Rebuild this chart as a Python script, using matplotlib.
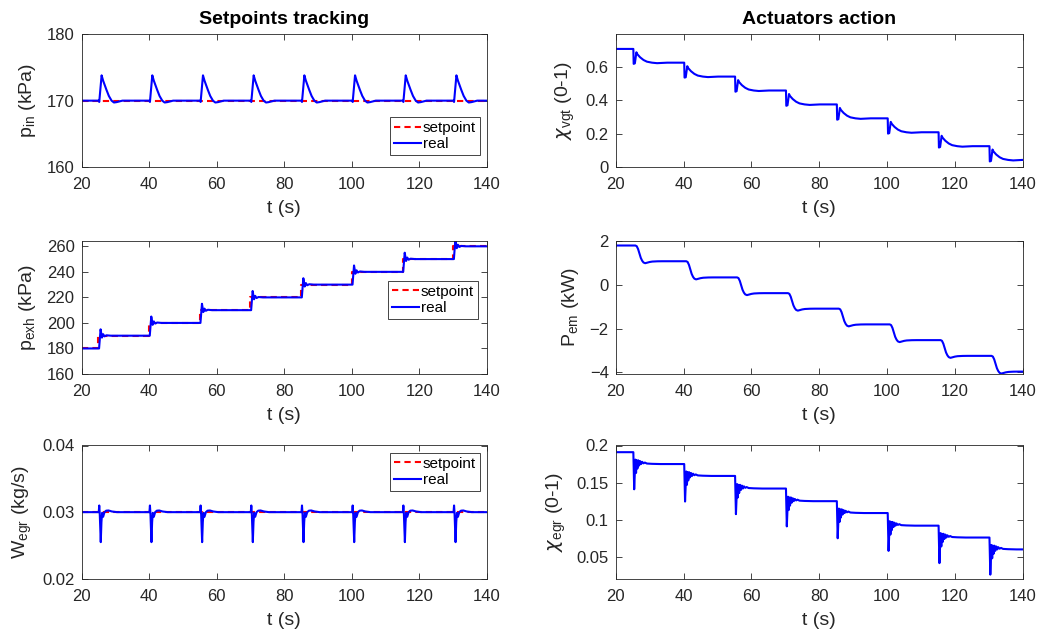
import matplotlib
matplotlib.use("Agg")
import matplotlib.pyplot as plt
import numpy as np

plt.rcParams['font.family'] = ['Liberation Sans', 'DejaVu Sans']
plt.rcParams['mathtext.fontset'] = 'dejavusans'

# ---------------- data ----------------
x_ticks = [20, 40, 60, 80, 100, 120, 140]

# intake pressure p_in (kPa)
pin_sp_t = [20, 140]
pin_sp = [170, 170]
pin_t = [[20],
         [25.1, 25.25, 25.95, 26.4, 27.4, 28.1, 28.9, 29.6, 30.4, 32.1],
         [40.1, 40.25, 40.95, 41.4, 42.4, 43.1, 43.9, 44.6, 45.4, 47.1],
         [55.1, 55.25, 55.95, 56.4, 57.4, 58.1, 58.9, 59.6, 60.4, 62.1],
         [70.1, 70.25, 70.95, 71.4, 72.4, 73.1, 73.9, 74.6, 75.4, 77.1],
         [85.1, 85.25, 85.95, 86.4, 87.4, 88.1, 88.9, 89.6, 90.4, 92.1],
         [100.1, 100.25, 100.95, 101.4, 102.4, 103.1, 103.9, 104.6, 105.4, 107.1],
         [115.1, 115.25, 115.95, 116.4, 117.4, 118.1, 118.9, 119.6, 120.4, 122.1],
         [130.1, 130.25, 130.95, 131.4, 132.4, 133.1, 133.9, 134.6, 135.4, 137.1],
         [140]]
pin_real = [[170],
            [170, 169.8, 173.8, 173.0, 171.6, 170.7, 170.0, 169.72, 169.78, 170.0],
            [170, 169.8, 173.8, 173.0, 171.6, 170.7, 170.0, 169.72, 169.78, 170.0],
            [170, 169.8, 173.8, 173.0, 171.6, 170.7, 170.0, 169.72, 169.78, 170.0],
            [170, 169.8, 173.8, 173.0, 171.6, 170.7, 170.0, 169.72, 169.78, 170.0],
            [170, 169.8, 173.8, 173.0, 171.6, 170.7, 170.0, 169.72, 169.78, 170.0],
            [170, 169.8, 173.8, 173.0, 171.6, 170.7, 170.0, 169.72, 169.78, 170.0],
            [170, 169.8, 173.8, 173.0, 171.6, 170.7, 170.0, 169.72, 169.78, 170.0],
            [170, 169.8, 173.8, 173.0, 171.6, 170.7, 170.0, 169.72, 169.78, 170.0],
            [170]]

# exhaust pressure p_exh (kPa)
pexh_sp_t = [20, 25.0, 40.0, 55.0, 70.0, 85.0, 100.0, 115.0, 130.0, 140]
pexh_sp = [180, 190, 200, 210, 220, 230, 240, 250, 260, 260]
pexh_t = [[20],
          [25.2, 25.65, 26.05, 26.4, 26.8, 27.4, 28.7],
          [40.2, 40.65, 41.05, 41.4, 41.8, 42.4, 43.7],
          [55.2, 55.65, 56.05, 56.4, 56.8, 57.4, 58.7],
          [70.2, 70.65, 71.05, 71.4, 71.8, 72.4, 73.7],
          [85.2, 85.65, 86.05, 86.4, 86.8, 87.4, 88.7],
          [100.2, 100.65, 101.05, 101.4, 101.8, 102.4, 103.7],
          [115.2, 115.65, 116.05, 116.4, 116.8, 117.4, 118.7],
          [130.2, 130.65, 131.05, 131.4, 131.8, 132.4, 133.7],
          [140]]
pexh_real = [[180],
             [180, 195, 188.5, 191.2, 189.5, 190.3, 190],
             [190, 205, 198.5, 201.2, 199.5, 200.3, 200],
             [200, 215, 208.5, 211.2, 209.5, 210.3, 210],
             [210, 225, 218.5, 221.2, 219.5, 220.3, 220],
             [220, 235, 228.5, 231.2, 229.5, 230.3, 230],
             [230, 245, 238.5, 241.2, 239.5, 240.3, 240],
             [240, 255, 248.5, 251.2, 249.5, 250.3, 250],
             [250, 265.5, 258.5, 261.2, 259.5, 260.3, 260],
             [260]]

# EGR mass flow W_egr (kg/s)
wegr_sp_t = [20, 140]
wegr_sp = [0.03, 0.03]
wegr_t = [[20],
          [25.1, 25.25, 25.4, 25.7, 25.9, 26.1, 26.4, 26.8, 27.3, 28.0, 29.0, 30.5],
          [40.1, 40.25, 40.4, 40.7, 40.9, 41.1, 41.4, 41.8, 42.3, 43.0, 44.0, 45.5],
          [55.1, 55.25, 55.4, 55.7, 55.9, 56.1, 56.4, 56.8, 57.3, 58.0, 59.0, 60.5],
          [70.1, 70.25, 70.4, 70.7, 70.9, 71.1, 71.4, 71.8, 72.3, 73.0, 74.0, 75.5],
          [85.1, 85.25, 85.4, 85.7, 85.9, 86.1, 86.4, 86.8, 87.3, 88.0, 89.0, 90.5],
          [100.1, 100.25, 100.4, 100.7, 100.9, 101.1, 101.4, 101.8, 102.3, 103.0, 104.0, 105.5],
          [115.1, 115.25, 115.4, 115.7, 115.9, 116.1, 116.4, 116.8, 117.3, 118.0, 119.0, 120.5],
          [130.1, 130.25, 130.4, 130.7, 130.9, 131.1, 131.4, 131.8, 132.3, 133.0, 134.0, 135.5],
          [140]]
wegr_real = [[0.03],
             [0.03, 0.031, 0.0298, 0.0255, 0.0285, 0.0299, 0.0293, 0.0300, 0.03022, 0.03025, 0.0301, 0.03],
             [0.03, 0.031, 0.0298, 0.0255, 0.0285, 0.0299, 0.0293, 0.0300, 0.03022, 0.03025, 0.0301, 0.03],
             [0.03, 0.031, 0.0298, 0.0255, 0.0285, 0.0299, 0.0293, 0.0300, 0.03022, 0.03025, 0.0301, 0.03],
             [0.03, 0.031, 0.0298, 0.0255, 0.0285, 0.0299, 0.0293, 0.0300, 0.03022, 0.03025, 0.0301, 0.03],
             [0.03, 0.031, 0.0298, 0.0255, 0.0285, 0.0299, 0.0293, 0.0300, 0.03022, 0.03025, 0.0301, 0.03],
             [0.03, 0.031, 0.0298, 0.0255, 0.0285, 0.0299, 0.0293, 0.0300, 0.03022, 0.03025, 0.0301, 0.03],
             [0.03, 0.031, 0.0298, 0.0255, 0.0285, 0.0299, 0.0293, 0.0300, 0.03022, 0.03025, 0.0301, 0.03],
             [0.03, 0.031, 0.0298, 0.0255, 0.0285, 0.0299, 0.0293, 0.0300, 0.03022, 0.03025, 0.0301, 0.03],
             [0.03]]

# VGT position chi_vgt (0-1)
vgt_t = [[20],
         [25.2, 25.3, 25.65, 26.1, 26.4, 27.2, 28.2, 29.2, 30.7, 32.2, 35.2],
         [40.2, 40.3, 40.65, 41.1, 41.4, 42.2, 43.2, 44.2, 45.7, 47.2, 50.2],
         [55.2, 55.3, 55.65, 56.1, 56.4, 57.2, 58.2, 59.2, 60.7, 62.2, 65.2],
         [70.2, 70.3, 70.65, 71.1, 71.4, 72.2, 73.2, 74.2, 75.7, 77.2, 80.2],
         [85.2, 85.3, 85.65, 86.1, 86.4, 87.2, 88.2, 89.2, 90.7, 92.2, 95.2],
         [100.2, 100.3, 100.65, 101.1, 101.4, 102.2, 103.2, 104.2, 105.7, 107.2, 110.2],
         [115.2, 115.3, 115.65, 116.1, 116.4, 117.2, 118.2, 119.2, 120.7, 122.2, 125.2],
         [130.2, 130.3, 130.65, 131.1, 131.4, 132.2, 133.2, 134.2, 135.7, 137.2, 139.9],
         [140]]
vgt_u = [[0.706],
         [0.706, 0.617, 0.620, 0.686, 0.674, 0.656, 0.640, 0.630, 0.624, 0.621, 0.624],
         [0.624, 0.535, 0.537, 0.603, 0.591, 0.573, 0.557, 0.547, 0.541, 0.538, 0.541],
         [0.541, 0.451, 0.454, 0.520, 0.508, 0.490, 0.474, 0.464, 0.458, 0.455, 0.458],
         [0.458, 0.367, 0.370, 0.437, 0.425, 0.407, 0.391, 0.381, 0.375, 0.372, 0.375],
         [0.375, 0.284, 0.287, 0.354, 0.342, 0.324, 0.308, 0.298, 0.292, 0.289, 0.292],
         [0.292, 0.201, 0.204, 0.271, 0.259, 0.241, 0.225, 0.215, 0.209, 0.206, 0.209],
         [0.209, 0.118, 0.121, 0.188, 0.176, 0.158, 0.142, 0.132, 0.126, 0.123, 0.126],
         [0.126, 0.035, 0.038, 0.106, 0.094, 0.076, 0.060, 0.050, 0.044, 0.041, 0.044],
         [0.044]]

# electric machine power P_em (kW)
pem_t = [[20],
         [25.8, 26.2, 26.6, 27.0, 27.4, 27.8, 28.2, 28.7, 29.3, 30.0, 30.8, 32.3, 33.8],
         [40.8, 41.2, 41.6, 42.0, 42.4, 42.8, 43.2, 43.7, 44.3, 45.0, 45.8, 47.3, 48.8],
         [55.8, 56.2, 56.6, 57.0, 57.4, 57.8, 58.2, 58.7, 59.3, 60.0, 60.8, 62.3, 63.8],
         [70.8, 71.2, 71.6, 72.0, 72.4, 72.8, 73.2, 73.7, 74.3, 75.0, 75.8, 77.3, 78.8],
         [85.8, 86.2, 86.6, 87.0, 87.4, 87.8, 88.2, 88.7, 89.3, 90.0, 90.8, 92.3, 93.8],
         [100.8, 101.2, 101.6, 102.0, 102.4, 102.8, 103.2, 103.7, 104.3, 105.0, 105.8, 107.3, 108.8],
         [115.8, 116.2, 116.6, 117.0, 117.4, 117.8, 118.2, 118.7, 119.3, 120.0, 120.8, 122.3, 123.8],
         [130.8, 131.2, 131.6, 132.0, 132.4, 132.8, 133.2, 133.7, 134.3, 135.0, 135.8, 137.3, 138.8],
         [140]]
pem_u = [[1.81],
         [1.81, 1.778, 1.648, 1.445, 1.243, 1.113, 1.032, 1.00, 1.025, 1.055, 1.075, 1.087, 1.09],
         [1.09, 1.057, 0.924, 0.716, 0.509, 0.376, 0.293, 0.26, 0.285, 0.315, 0.335, 0.347, 0.35],
         [0.35, 0.318, 0.188, -0.015, -0.217, -0.347, -0.428, -0.46, -0.435, -0.405, -0.385, -0.373, -0.37],
         [-0.37, -0.402, -0.53, -0.73, -0.93, -1.058, -1.138, -1.17, -1.145, -1.115, -1.095, -1.083, -1.08],
         [-1.08, -1.112, -1.242, -1.445, -1.647, -1.777, -1.858, -1.89, -1.865, -1.835, -1.815, -1.803, -1.80],
         [-1.80, -1.832, -1.962, -2.165, -2.367, -2.497, -2.578, -2.61, -2.585, -2.555, -2.535, -2.523, -2.52],
         [-2.52, -2.552, -2.682, -2.885, -3.087, -3.217, -3.298, -3.33, -3.305, -3.275, -3.255, -3.243, -3.24],
         [-3.24, -3.272, -3.402, -3.605, -3.807, -3.937, -4.018, -4.05, -4.025, -3.995, -3.975, -3.963, -3.96],
         [-3.96]]

# EGR valve position chi_egr (0-1)
egr_t = [[20],
         [25.2, 25.45, 25.8, 26.0, 26.2, 26.4, 26.65, 26.9, 27.2, 27.5, 27.8, 28.2, 28.6, 29.2, 30.7, 33.2],
         [40.2, 40.45, 40.8, 41.0, 41.2, 41.4, 41.65, 41.9, 42.2, 42.5, 42.8, 43.2, 43.6, 44.2, 45.7, 48.2],
         [55.2, 55.45, 55.8, 56.0, 56.2, 56.4, 56.65, 56.9, 57.2, 57.5, 57.8, 58.2, 58.6, 59.2, 60.7, 63.2],
         [70.2, 70.45, 70.8, 71.0, 71.2, 71.4, 71.65, 71.9, 72.2, 72.5, 72.8, 73.2, 73.6, 74.2, 75.7, 78.2],
         [85.2, 85.45, 85.8, 86.0, 86.2, 86.4, 86.65, 86.9, 87.2, 87.5, 87.8, 88.2, 88.6, 89.2, 90.7, 93.2],
         [100.2, 100.45, 100.8, 101.0, 101.2, 101.4, 101.65, 101.9, 102.2, 102.5, 102.8, 103.2, 103.6, 104.2, 105.7, 108.2],
         [115.2, 115.45, 115.8, 116.0, 116.2, 116.4, 116.65, 116.9, 117.2, 117.5, 117.8, 118.2, 118.6, 119.2, 120.7, 123.2],
         [130.2, 130.45, 130.8, 131.0, 131.2, 131.4, 131.65, 131.9, 132.2, 132.5, 132.8, 133.2, 133.6, 134.2, 135.7, 138.2],
         [140]]
egr_u = [[0.191],
         [0.191, 0.141, 0.181, 0.163, 0.180, 0.169, 0.180, 0.173, 0.179, 0.175, 0.178, 0.176, 0.177, 0.1757, 0.1753, 0.175],
         [0.175, 0.1245, 0.165, 0.147, 0.164, 0.153, 0.164, 0.157, 0.163, 0.159, 0.162, 0.160, 0.161, 0.1597, 0.1593, 0.159],
         [0.159, 0.1075, 0.148, 0.130, 0.147, 0.136, 0.147, 0.140, 0.146, 0.142, 0.145, 0.143, 0.144, 0.1427, 0.1423, 0.142],
         [0.142, 0.091, 0.131, 0.113, 0.130, 0.119, 0.130, 0.123, 0.129, 0.125, 0.128, 0.126, 0.127, 0.1257, 0.1253, 0.125],
         [0.125, 0.075, 0.115, 0.097, 0.114, 0.103, 0.114, 0.107, 0.113, 0.109, 0.112, 0.110, 0.111, 0.1097, 0.1093, 0.109],
         [0.109, 0.058, 0.098, 0.080, 0.097, 0.086, 0.097, 0.090, 0.096, 0.092, 0.095, 0.093, 0.094, 0.0927, 0.0923, 0.092],
         [0.092, 0.0415, 0.082, 0.064, 0.081, 0.070, 0.081, 0.074, 0.080, 0.076, 0.079, 0.077, 0.078, 0.0767, 0.0763, 0.076],
         [0.076, 0.026, 0.066, 0.048, 0.065, 0.054, 0.065, 0.058, 0.064, 0.060, 0.063, 0.061, 0.062, 0.0607, 0.0603, 0.060],
         [0.060]]


def flat(lst):
    return [v for seg in lst for v in seg]


# ---------------- figure ----------------
fig = plt.figure(figsize=(10.41, 6.35), dpi=100)
W, H = 1041.0, 635.0
col_left = [81.5, 615.7]
col_w = [405.5, 407.0]
row_top = [34.0, 240.7, 445.5]
row_h = 133.3

axes = [[None, None] for _ in range(3)]
for r in range(3):
    for c in range(2):
        axes[r][c] = fig.add_axes([col_left[c] / W, 1 - (row_top[r] + row_h) / H,
                                   col_w[c] / W, row_h / H])

dark = '#262626'
blue = '#0000ff'
red = '#ff0000'
lw = 1.5

for r in range(3):
    for c in range(2):
        ax = axes[r][c]
        ax.set_xlim(20, 140)
        ax.set_xticks(x_ticks)
        ax.tick_params(direction='in', length=4, width=0.6, colors=dark,
                       labelsize=12, top=True, right=True)
        ax.tick_params(axis='x', pad=7)
        ax.tick_params(axis='y', pad=5)
        for s in ax.spines.values():
            s.set_color(dark)
            s.set_linewidth(0.6)
        ax.set_xlabel('t (s)', fontsize=14, color=dark, labelpad=6)

# p_in
ax = axes[0][0]
ax.plot(pin_sp_t, pin_sp, '--', color=red, lw=lw, label='setpoint', dashes=(3, 2))
ax.plot(flat(pin_t), flat(pin_real), '-', color=blue, lw=lw, label='real')
ax.set_ylim(160, 180)
ax.set_yticks([160, 170, 180])
ax.set_ylabel('p$_\\mathregular{in}$ (kPa)', fontsize=14, color=dark, labelpad=6)
ax.set_title('Setpoints tracking', fontsize=14, fontweight='bold', pad=7)

# p_exh
ax = axes[1][0]
ax.plot(pexh_sp_t, pexh_sp, '--', color=red, lw=lw, label='setpoint',
        drawstyle='steps-post', dashes=(3, 2))
ax.plot(flat(pexh_t), flat(pexh_real), '-', color=blue, lw=lw, label='real')
ax.set_ylim(160, 264.4)
ax.set_yticks([160, 180, 200, 220, 240, 260])
ax.set_ylabel('p$_\\mathregular{exh}$ (kPa)', fontsize=14, color=dark, labelpad=6)

# W_egr
ax = axes[2][0]
ax.plot(wegr_sp_t, wegr_sp, '--', color=red, lw=lw, label='setpoint', dashes=(3, 2))
ax.plot(flat(wegr_t), flat(wegr_real), '-', color=blue, lw=lw, label='real')
ax.set_ylim(0.02, 0.04)
ax.set_yticks([0.02, 0.03, 0.04])
ax.set_yticklabels(['0.02', '0.03', '0.04'])
ax.set_ylabel('W$_\\mathregular{egr}$ (kg/s)', fontsize=14, color=dark, labelpad=6)

# chi_vgt
ax = axes[0][1]
ax.plot(flat(vgt_t), flat(vgt_u), '-', color=blue, lw=lw)
ax.set_ylim(0, 0.795)
ax.set_yticks([0, 0.2, 0.4, 0.6])
ax.set_yticklabels(['0', '0.2', '0.4', '0.6'])
ax.set_ylabel('$\\chi_\\mathregular{vgt}$ (0-1)', fontsize=14, color=dark, labelpad=6)
ax.set_title('Actuators action', fontsize=14, fontweight='bold', pad=7)

# P_em
ax = axes[1][1]
ax.plot(flat(pem_t), flat(pem_u), '-', color=blue, lw=lw)
ax.set_ylim(-4.07, 2.03)
ax.set_yticks([-4, -2, 0, 2])
ax.set_ylabel('P$_\\mathregular{em}$ (kW)', fontsize=14, color=dark, labelpad=6)

# chi_egr
ax = axes[2][1]
ax.plot(flat(egr_t), flat(egr_u), '-', color=blue, lw=lw)
ax.set_ylim(0.0204, 0.2)
ax.set_yticks([0.05, 0.1, 0.15, 0.2])
ax.set_yticklabels(['0.05', '0.1', '0.15', '0.2'])
ax.set_ylabel('$\\chi_\\mathregular{egr}$ (0-1)', fontsize=14, color=dark, labelpad=6)

# legends
leg_pos = [(0, 0.761, 0.376), (1, 0.756, 0.698), (2, 0.761, 0.944)]
for r, lx, ly in leg_pos:
    leg = axes[r][0].legend(loc='upper left', bbox_to_anchor=(lx, ly), borderaxespad=0,
                            fontsize=11, handlelength=1.8, handletextpad=0.1,
                            borderpad=0.25, labelspacing=0.15, fancybox=False,
                            framealpha=1, edgecolor=dark)
    leg.get_frame().set_linewidth(0.6)
    for t in leg.get_texts():
        t.set_color('black')

fig.savefig('out.png', dpi=100)
